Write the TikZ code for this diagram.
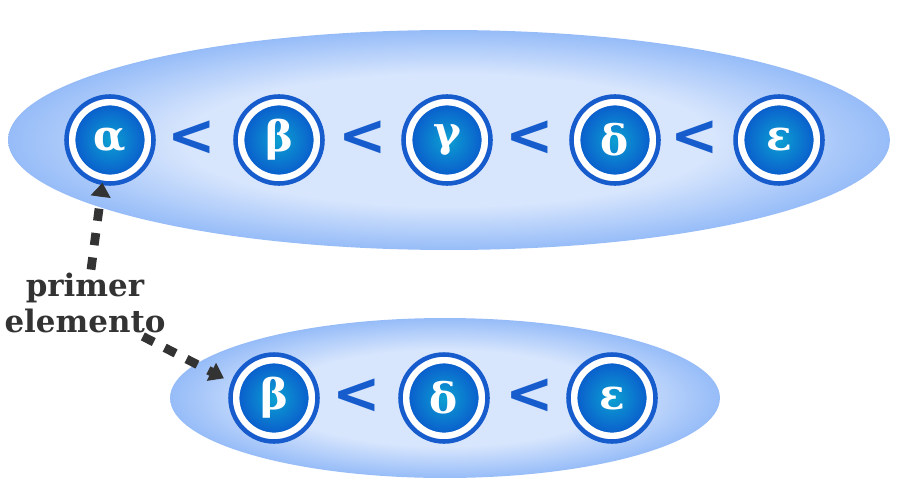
\documentclass[tikz,border=0pt]{standalone}
\usepackage{fontspec}
\setmainfont{DejaVu Serif}
\newfontfamily\simbolo{DejaVu Sans}
\usetikzlibrary{arrows.meta,positioning}

\definecolor{anillo}{RGB}{22,92,204}
\definecolor{discoin}{RGB}{12,160,210}
\definecolor{discoout}{RGB}{10,88,204}
\definecolor{nubein}{RGB}{216,230,253}
\definecolor{nubeout}{RGB}{150,188,248}
\definecolor{texto}{RGB}{51,51,51}

\pgfdeclareradialshading{nubeshade}{\pgfpoint{0bp}{0bp}}{%
    color(0bp)=(nubein); color(15bp)=(nubein); color(25bp)=(nubeout); color(50bp)=(nubeout)}

\tikzset{
    letra/.style={circle, minimum size=1.56cm, inner sep=0pt,
        inner color=discoin, outer color=discoout,
        draw=white, line width=5pt, text=white,
        font=\fontsize{24}{24}\selectfont\bfseries},
    borde/.style={draw=anillo, line width=2.6pt},
    menor/.style={text=anillo, inner sep=0pt,
        font=\simbolo\fontsize{33}{33}\selectfont\bfseries},
    nube/.style={shading=nubeshade},
    flecha/.style={draw=texto, line width=5pt, dash pattern=on 7pt off 7pt,
        -{Triangle[length=8pt,width=11pt]}}
}

\begin{document}
\begin{tikzpicture}[x=0.02cm,y=-0.02cm]
    \useasboundingbox (0,0) rectangle (901,500);

    % Ellipses behind the lists
    \shade[nube] (449,140) ellipse [x radius=8.82cm, y radius=2.2cm];
    \shade[nube] (445,398) ellipse [x radius=5.5cm, y radius=1.6cm];

    % First list
    \foreach \x/\l [count=\i] in {110/α, 279/β, 447/γ, 615/δ, 779/ε} {
        \node[letra] (a\i) at (\x,140) {\l};
        \draw[borde] (a\i.center) circle (0.87cm);
    }
    \foreach \x [count=\i] in {192, 363, 530, 695} {
        \node[menor] (m\i) at (\x,138) {<};
    }

    % Second list
    \foreach \x/\l [count=\i] in {274/β, 444/δ, 612/ε} {
        \node[letra] (b\i) at (\x,398) {\l};
        \draw[borde] (b\i.center) circle (0.87cm);
    }
    \foreach \x [count=\i] in {357, 530} {
        \node[menor] (n\i) at (\x,396) {<};
    }

    % Label and arrows
    \node[text=texto, align=center, inner sep=2pt,
        font=\fontsize{17.6}{20}\selectfont\bfseries] (lbl) at (85,303) {primer\\elemento};
    \draw[flecha] (lbl.north) ++(6,0) -- (a1.260);
    \draw[flecha, shorten >=6pt] (lbl.-30) -- (b1.160);

\end{tikzpicture}
\end{document}
